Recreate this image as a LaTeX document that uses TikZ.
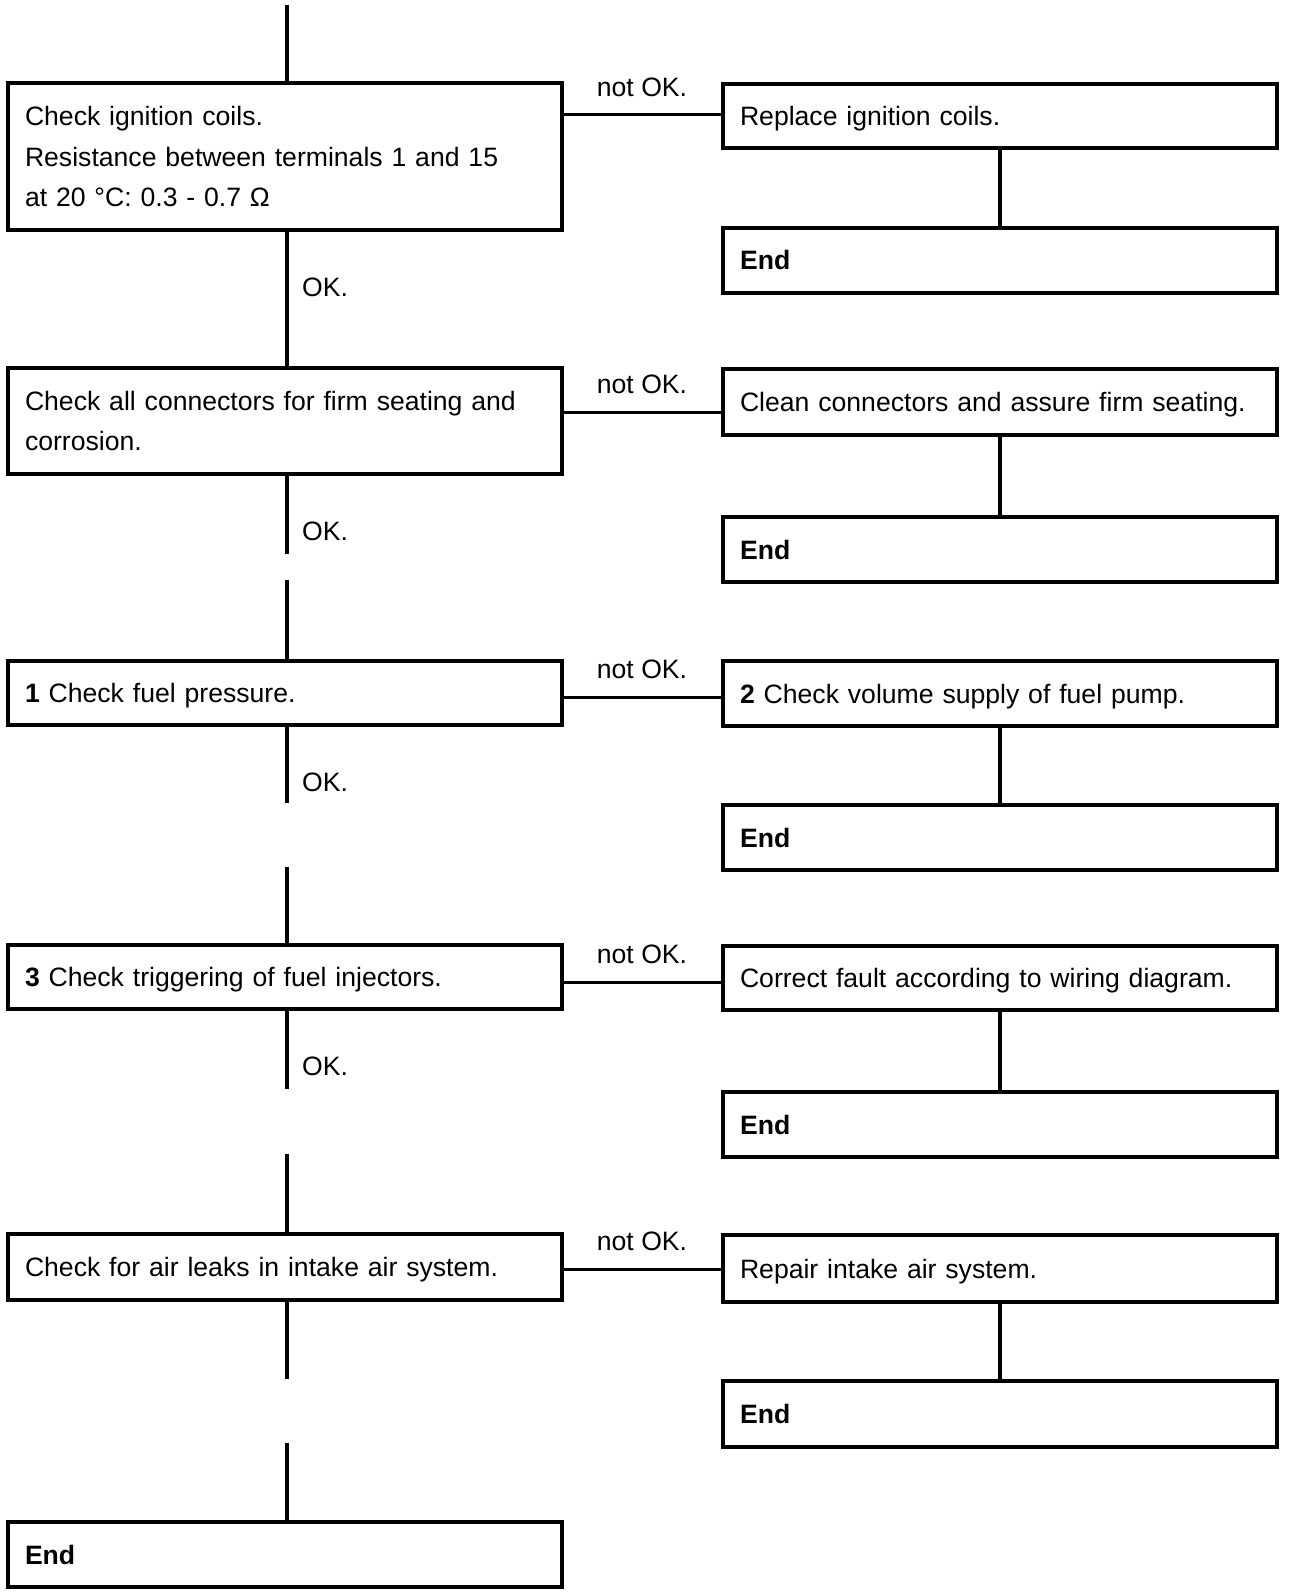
\documentclass[tikz,border=0pt]{standalone}
\usepackage{fontspec}
\setmainfont{Liberation Sans}
\begin{document}
\begin{tikzpicture}[x=1pt,y=-1pt,
  txt/.style={font=\fontsize{26.6}{40.5}\selectfont},
  box/.style={txt, draw, line width=3.5pt, anchor=north west, outer sep=0pt,
    minimum width=554pt, text width=520pt, inner xsep=17pt, inner ysep=0pt, align=left},
  one/.style={text height=24pt, text depth=5pt},
  conn/.style={line width=3.5pt},
  lbl/.style={txt, inner sep=0pt}]
\useasboundingbox (0,0) rectangle (1296,1594);

% left column
\node[box, minimum height=147pt] (b1) at (8,83) {Check ignition coils.\\Resistance between terminals 1 and 15\\at 20 °C: 0.3 - 0.7 Ω};
\node[box, minimum height=106pt] (b2) at (8,368) {Check all connectors for firm seating and\\corrosion.};
\node[box, one, minimum height=64pt] (b3) at (8,661) {\textbf{1} Check fuel pressure.};
\node[box, one, minimum height=64pt] (b4) at (8,945) {\textbf{3} Check triggering of fuel injectors.};
\node[box, one, minimum height=66pt] (b5) at (8,1234) {Check for air leaks in intake air system.};
\node[box, one, minimum height=65pt] (b6) at (8,1522) {\textbf{End}};

% right column
\node[box, one, minimum height=64pt] (r1) at (723,84) {Replace ignition coils.};
\node[box, one, minimum height=65pt] (e1) at (723,228) {\textbf{End}};
\node[box, one, minimum height=66pt] (r2) at (723,369) {Clean connectors and assure firm seating.};
\node[box, one, minimum height=65pt] (e2) at (723,517) {\textbf{End}};
\node[box, one, minimum height=65pt] (r3) at (723,661) {\textbf{2} Check volume supply of fuel pump.};
\node[box, one, minimum height=65pt] (e3) at (723,805) {\textbf{End}};
\node[box, one, minimum height=64pt] (r4) at (723,946) {Correct fault according to wiring diagram.};
\node[box, one, minimum height=65pt] (e4) at (723,1092) {\textbf{End}};
\node[box, one, minimum height=67pt] (r5) at (723,1235) {Repair intake air system.};
\node[box, one, minimum height=66pt] (e5) at (723,1381) {\textbf{End}};

% top entry
\coordinate (top) at (287,5);
\draw[conn] (top) -- (top |- b1.north);

% vertical connectors, left column
\coordinate (g2a) at (287,554);
\coordinate (g2b) at (287,580);
\coordinate (g3a) at (287,803);
\coordinate (g3b) at (287,867);
\coordinate (g4a) at (287,1089);
\coordinate (g4b) at (287,1154);
\coordinate (g5a) at (287,1379);
\coordinate (g5b) at (287,1443);
\draw[conn] (b1.south -| top) -- (b2.north -| top);
\draw[conn] (b2.south -| top) -- (g2a);
\draw[conn] (g2b) -- (b3.north -| top);
\draw[conn] (b3.south -| top) -- (g3a);
\draw[conn] (g3b) -- (b4.north -| top);
\draw[conn] (b4.south -| top) -- (g4a);
\draw[conn] (g4b) -- (b5.north -| top);
\draw[conn] (b5.south -| top) -- (g5a);
\draw[conn] (g5b) -- (b6.north -| top);

% right column verticals
\draw[conn] (r1.south) -- (e1.north);
\draw[conn] (r2.south) -- (e2.north);
\draw[conn] (r3.south) -- (e3.north);
\draw[conn] (r4.south) -- (e4.north);
\draw[conn] (r5.south) -- (e5.north);

% horizontal "not OK." connectors
\coordinate (h1) at (642,115);
\coordinate (h2) at (642,412);
\coordinate (h3) at (642,697);
\coordinate (h4) at (642,982);
\coordinate (h5) at (642,1269);
\foreach \i in {1,...,5}{
  \draw[conn, line width=3pt] (b\i.east |- h\i) -- (r\i.west |- h\i);
  \node[lbl] (n\i) at ([yshift=28pt]h\i) {not OK.};
}

% OK labels
\node[lbl, anchor=west] (ok1) at (302,287) {OK.};
\node[lbl, anchor=west] (ok2) at (302,531) {OK.};
\node[lbl, anchor=west] (ok3) at (302,782) {OK.};
\node[lbl, anchor=west] (ok4) at (302,1066) {OK.};
\end{tikzpicture}
\end{document}
